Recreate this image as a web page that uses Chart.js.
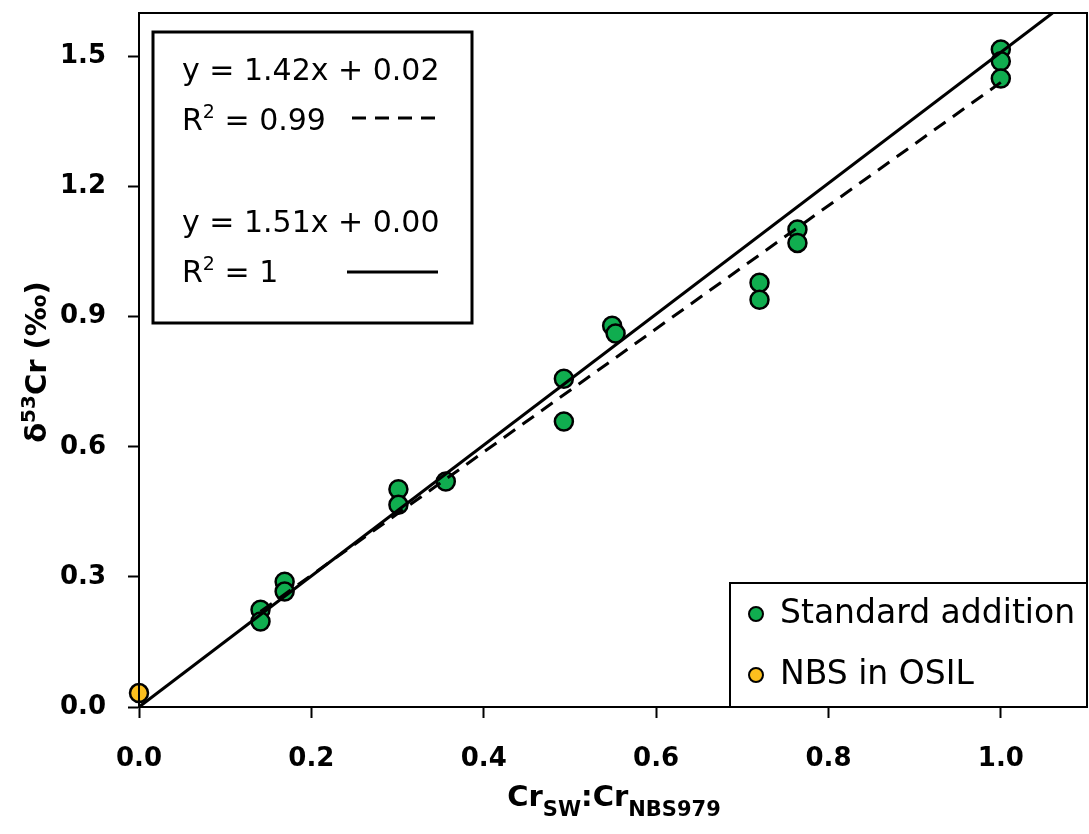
<!DOCTYPE html>
<html>
<head>
<meta charset="utf-8">
<script src="https://cdn.jsdelivr.net/npm/chart.js@4.4.1/dist/chart.umd.min.js"></script>
<style>
  body { margin: 0; background: #fff; }
  canvas { display: block; }
</style>
</head>
<body>
<canvas id="myChart" width="1089" height="834"></canvas>
<script>
// data
var stdX = [0.141, 0.141, 0.169, 0.169, 0.301, 0.301, 0.356, 0.493, 0.493, 0.549, 0.553, 0.720, 0.720, 0.764, 0.764, 1.0, 1.0, 1.0];
var stdY = [0.224, 0.197, 0.289, 0.266, 0.502, 0.466, 0.520, 0.757, 0.658, 0.879, 0.861, 0.978, 0.939, 1.101, 1.070, 1.516, 1.489, 1.449];
var nbsX = [0];
var nbsY = [0.032];

// trendline end points
var fitDashX = [0.141, 1.0];
var fitDashY = [0.220, 1.440];
var fitSolidX = [0, 1.06];
var fitSolidY = [0, 1.60];

var xTicks = [0, 0.2, 0.4, 0.6, 0.8, 1.0];
var yTicks = [0, 0.3, 0.6, 0.9, 1.2, 1.5];

var FONT = "'DejaVu Sans'";

function pts(xs, ys) {
    return xs.map(function (x, i) { return { x: x, y: ys[i] }; });
}

// draw a row of text runs, each {t, size, bold, dy}
function runs(ctx, parts, x, y, align) {
    var total = 0;
    parts.forEach(function (p) {
        ctx.font = (p.bold ? 'bold ' : '') + p.size + 'px ' + FONT;
        p.w = ctx.measureText(p.t).width;
        total += p.w;
    });
    var cx = align === 'center' ? x - total / 2 : x;
    ctx.textAlign = 'left';
    ctx.textBaseline = 'alphabetic';
    parts.forEach(function (p) {
        ctx.font = (p.bold ? 'bold ' : '') + p.size + 'px ' + FONT;
        ctx.fillText(p.t, cx, y + (p.dy || 0));
        cx += p.w;
    });
}

var extras = {
    id: 'extras',
    afterDraw: function (chart) {
        var ctx = chart.ctx;
        var a = chart.chartArea;
        ctx.save();
        ctx.fillStyle = '#000';
        ctx.strokeStyle = '#000';

        // frame round the plot
        ctx.lineWidth = 2;
        ctx.strokeRect(a.left, a.top, a.right - a.left, a.bottom - a.top);

        // equation box
        ctx.lineWidth = 3;
        ctx.fillStyle = '#fff';
        ctx.fillRect(153, 32, 319, 291);
        ctx.strokeRect(153, 32, 319, 291);
        ctx.fillStyle = '#000';
        runs(ctx, [{ t: 'y = 1.42x + 0.02', size: 30 }], 182, 80);
        runs(ctx, [{ t: 'R', size: 30 }, { t: '2', size: 19, dy: -12 }, { t: ' = 0.99', size: 30 }], 182, 130);
        runs(ctx, [{ t: 'y = 1.51x + 0.00', size: 30 }], 182, 232);
        runs(ctx, [{ t: 'R', size: 30 }, { t: '2', size: 19, dy: -12 }, { t: ' = 1', size: 30 }], 182, 282);
        ctx.lineWidth = 3;
        ctx.setLineDash([14, 9]);
        ctx.beginPath(); ctx.moveTo(352, 118); ctx.lineTo(440, 118); ctx.stroke();
        ctx.setLineDash([]);
        ctx.beginPath(); ctx.moveTo(347, 272); ctx.lineTo(438, 272); ctx.stroke();

        // legend box
        ctx.lineWidth = 2;
        ctx.fillStyle = '#fff';
        ctx.fillRect(730, 583, a.right - 730, a.bottom - 583);
        ctx.strokeRect(730, 583, a.right - 730, a.bottom - 583);
        var items = [
            { label: chart.data.datasets[2].label, color: chart.data.datasets[2].backgroundColor, y: 614 },
            { label: chart.data.datasets[3].label, color: chart.data.datasets[3].backgroundColor, y: 675 }
        ];
        items.forEach(function (it) {
            ctx.beginPath();
            ctx.arc(756, it.y, 7, 0, Math.PI * 2);
            ctx.fillStyle = it.color;
            ctx.fill();
            ctx.lineWidth = 2;
            ctx.stroke();
            ctx.fillStyle = '#000';
            ctx.font = '33px ' + FONT;
            ctx.textAlign = 'left';
            ctx.textBaseline = 'middle';
            ctx.fillText(it.label, 780, it.y);
        });

        // x title
        ctx.fillStyle = '#000';
        runs(ctx, [
            { t: 'Cr', size: 29, bold: true },
            { t: 'SW', size: 21, bold: true, dy: 10 },
            { t: ':Cr', size: 29, bold: true },
            { t: 'NBS979', size: 21, bold: true, dy: 10 }
        ], 614, 806, 'center');

        // y title
        ctx.translate(46, 362);
        ctx.rotate(-Math.PI / 2);
        runs(ctx, [
            { t: 'δ', size: 29, bold: true },
            { t: '53', size: 20, bold: true, dy: -11 },
            { t: 'Cr (‰)', size: 29, bold: true }
        ], 0, 0, 'center');

        ctx.restore();
    }
};

var ctx = document.getElementById('myChart').getContext('2d');
var myChart = new Chart(ctx, {
    type: 'scatter',
    data: {
        datasets: [{
            label: 'fit all',
            type: 'line',
            data: pts(fitSolidX, fitSolidY),
            borderColor: '#000',
            borderWidth: 3,
            pointRadius: 0,
            fill: false
        }, {
            label: 'fit standard addition',
            type: 'line',
            data: pts(fitDashX, fitDashY),
            borderColor: '#000',
            borderWidth: 3,
            borderDash: [14, 9],
            pointRadius: 0,
            fill: false
        }, {
            label: 'Standard addition',
            data: pts(stdX, stdY),
            backgroundColor: '#10ad4f',
            borderColor: '#000',
            borderWidth: 2.5,
            pointRadius: 9,
            clip: false
        }, {
            label: 'NBS in OSIL',
            data: pts(nbsX, nbsY),
            backgroundColor: '#fcbf1e',
            borderColor: '#000',
            borderWidth: 2.5,
            pointRadius: 9,
            clip: false
        }]
    },
    options: {
        responsive: false,
        devicePixelRatio: 1,
        animation: false,
        layout: { autoPadding: false, padding: { top: 13, right: 2, left: 0, bottom: 0 } },
        plugins: {
            legend: { display: false },
            tooltip: { enabled: false }
        },
        scales: {
            x: {
                type: 'linear',
                min: 0,
                max: 1.1,
                afterBuildTicks: function (s) { s.ticks = xTicks.map(function (v) { return { value: v }; }); },
                afterFit: function (s) { s.height = 127; s.paddingLeft = 0; s.paddingRight = 0; },
                border: { display: true, color: '#000', width: 2 },
                grid: { drawOnChartArea: false, drawTicks: true, tickLength: 11, tickWidth: 2, color: '#000' },
                ticks: {
                    color: '#000',
                    padding: 26,
                    maxRotation: 0,
                    font: { family: FONT, size: 26, weight: 'bold' },
                    callback: function (v) { return v.toFixed(1); }
                }
            },
            y: {
                type: 'linear',
                min: 0,
                max: 1.6,
                afterBuildTicks: function (s) { s.ticks = yTicks.map(function (v) { return { value: v }; }); },
                afterFit: function (s) { s.width = 139; s.paddingTop = 0; s.paddingBottom = 0; },
                border: { display: true, color: '#000', width: 2 },
                grid: { drawOnChartArea: false, drawTicks: true, tickLength: 11, tickWidth: 2, color: '#000' },
                ticks: {
                    color: '#000',
                    padding: 22,
                    font: { family: FONT, size: 26, weight: 'bold' },
                    callback: function (v) { return v.toFixed(1); }
                }
            }
        }
    },
    plugins: [extras]
});
</script>
</body>
</html>
